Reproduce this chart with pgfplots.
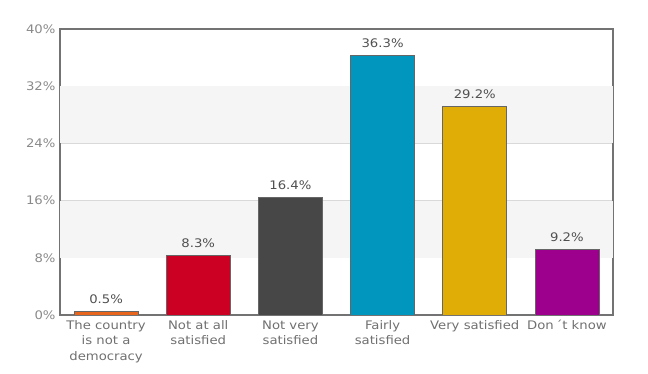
\documentclass[border=0pt]{standalone}
\usepackage{pgfplots}
\pgfplotsset{compat=1.18}
\usepackage{fontspec}
\setmainfont[FakeStretch=1.12]{DejaVu Sans}
\definecolor{cOrange}{HTML}{E8651E}
\definecolor{cRed}{HTML}{CC0022}
\definecolor{cGray}{HTML}{474747}
\definecolor{cBlue}{HTML}{0096BE}
\definecolor{cGold}{HTML}{E0AC06}
\definecolor{cPurple}{HTML}{9C008C}
\definecolor{tickc}{HTML}{8A8A8A}
\definecolor{labc}{HTML}{707070}
\definecolor{valc}{HTML}{505050}
\begin{document}
\begin{tikzpicture}
\useasboundingbox (0,0) rectangle (648pt,374pt);
\begin{axis}[
  at={(60pt,59pt)}, anchor=south west,
  scale only axis, width=553pt, height=286pt,
  xmin=-0.5, xmax=5.5, ymin=0, ymax=40,
  ytick={0,8,16,24,32,40},
  yticklabel={\pgfmathprintnumber{\tick}\%},
  /pgf/number format/assume math mode=true,
  xtick={0,1,2,3,4,5},
  xticklabels={{The country\\is not a\\democracy},{Not at all\\satisfied},{Not very\\satisfied},{Fairly\\satisfied},{Very satisfied},{Don\,´t know}},
  xticklabel style={align=center, font=\fontsize{11.8}{15.5}\selectfont, text=labc, yshift=-2pt},
  yticklabel style={font=\fontsize{11.8}{12}\selectfont, text=tickc, xshift=-1pt},
  major tick length=0pt,
  axis line style={draw=black!55, line width=1.3pt},
  ymajorgrids, grid style={draw=black!15, line width=0.6pt},
  ybar, bar width=64pt, bar shift=0pt,
  nodes near coords={\pgfmathprintnumber[fixed,precision=1,fixed zerofill]{\pgfplotspointmeta}\%},
  nodes near coords style={font=\fontsize{11.8}{12}\selectfont, text=valc, yshift=4pt},
  every axis plot/.append style={draw=black!60, line width=0.8pt},
]
\fill[black!4] (axis cs:-0.5,8) rectangle (axis cs:5.5,16);
\fill[black!4] (axis cs:-0.5,24) rectangle (axis cs:5.5,32);
\addplot[fill=cOrange] coordinates {(0,0.5)};
\addplot[fill=cRed] coordinates {(1,8.3)};
\addplot[fill=cGray] coordinates {(2,16.4)};
\addplot[fill=cBlue] coordinates {(3,36.3)};
\addplot[fill=cGold] coordinates {(4,29.2)};
\addplot[fill=cPurple] coordinates {(5,9.2)};
\end{axis}
\end{tikzpicture}
\end{document}
